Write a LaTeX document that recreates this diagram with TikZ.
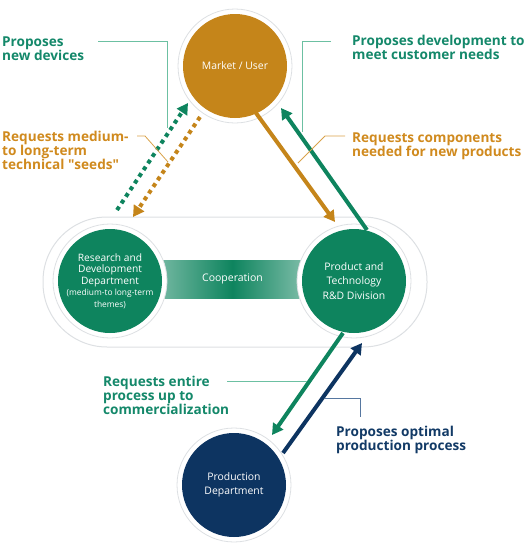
\documentclass[tikz,border=0pt]{standalone}
\usepackage{fontspec}
\setmainfont{Open Sans}
\usetikzlibrary{arrows.meta, calc, positioning}
\definecolor{mGold}{HTML}{C5851A}
\definecolor{mGreen}{HTML}{0E845E}
\definecolor{mNavy}{HTML}{0D3461}
\definecolor{mGoldTxt}{HTML}{D08A1E}
\definecolor{mGreenTxt}{HTML}{14886A}
\definecolor{mNavyTxt}{HTML}{123A66}
\definecolor{mLeafLine}{HTML}{6CC0A2}
\definecolor{mGoldLine}{HTML}{D9A24A}
\definecolor{mNavyLine}{HTML}{5677A0}
\definecolor{mRing}{HTML}{DDE0E3}

\begin{document}
\begin{tikzpicture}[x=1pt, y=-1pt,
  unit/.style={circle, fill=white, draw=mRing, line width=0.8pt, minimum size=114pt,
               inner sep=0pt, text=white, align=center, font=\fontsize{10.4}{14.5}\selectfont,
               path picture={\fill[#1] (path picture bounding box.center) circle (52pt);}},
  pill/.style={fill=white, draw=mRing, line width=1pt, rounded corners=64pt},
  coop/.style={minimum width=139pt, minimum height=38pt, inner sep=0pt, left color=mGreen!60,
               right color=mGreen!55, middle color=mGreen, text=white, font=\fontsize{10.5}{12}\selectfont},
  flow/.style={line width=4pt, draw=#1, -{Triangle[length=11pt, width=12pt]}},
  seed/.style={flow=#1, dash pattern=on 4pt off 4pt},
  lead/.style={draw=#1, line width=0.8pt},
  lbl/.style={anchor=base west, align=left, inner sep=0pt, text=#1,
              font=\fontsize{13.6}{14}\selectfont\bfseries}]
  \useasboundingbox (0,0) rectangle (526,552);
  % ring holding the two R&D units
  \draw[pill] (43,217) rectangle (427,347);
  \node[coop] (coop) at (232.5,279) {Cooperation};
  \node[unit=mGold] (mkt) at (235,66) {Market / User};
  \node[unit=mGreen, font=\fontsize{10.2}{11.5}\selectfont] (rnd) at (110,281)
    {Research and\\Development\\Department\\\fontsize{8.4}{12}\selectfont(medium-to long-term\\\fontsize{8.4}{11}\selectfont themes)};
  \node[unit=mGreen] (prod) at (354,281) {Product and\\Technology\\R\&D Division};
  \node[unit=mNavy] (dept) at (234,485) {Production\\Department};
  % flows between the units
  \draw[flow=mGold] ($(mkt)+(21,47)$) -- ($(prod)+(-19,-59)$);
  \draw[flow=mGreen] ($(prod)+(13,-51)$) -- ($(mkt)+(46,42)$);
  \draw[seed=mGreen] ($(rnd)+(7,-71)$) -- ($(mkt)+(-47,37)$);
  \draw[seed=mGold] ($(mkt)+(-35,51)$) -- ($(rnd)+(23,-64)$);
  \draw[flow=mGreen] ($(prod)+(-11,52)$) -- ($(dept)+(38,-50)$);
  \draw[flow=mNavy] ($(dept)+(49,-32)$) -- ($(prod)+(8,62)$);
  % labels (placed by the baseline of their last line)
  \node[lbl=mGreenTxt] (newdev) at (2,60) {Proposes\\new devices};
  \node[lbl=mGoldTxt] (seeds) at (2,169) {Requests medium-\\to long-term\\technical \textquotedbl seeds\textquotedbl};
  \node[lbl=mGreenTxt] (needs) at (352,59.5) {Proposes development to\\meet customer needs};
  \node[lbl=mGoldTxt] (parts) at (352,156) {Requests components\\needed for new products};
  \node[lbl=mGreenTxt] (whole) at (103,414) {Requests entire\\process up to\\commercialization};
  \node[lbl=mNavyTxt] (optim) at (336,450) {Proposes optimal\\production process};
  % leader lines
  \coordinate (tA) at (98,41);   \coordinate (hA) at (167,128);
  \coordinate (tB) at (137,136); \coordinate (hB) at (168,162);
  \coordinate (tC) at (331,41);  \coordinate (hC) at (302,132);
  \coordinate (tD) at (345,136); \coordinate (hD) at (298,163);
  \coordinate (tE) at (227,381); \coordinate (hE) at (307,381);
  \coordinate (tF) at (325,398); \coordinate (hF) at (360,417);
  \draw[lead=mLeafLine] (tA) -| (hA);
  \draw[lead=mGoldLine] (tB) -- ++(8,0) -- (hB);
  \draw[lead=mLeafLine] (tC) -| (hC);
  \draw[lead=mGoldLine] (tD) -- ++(-20,0) -- (hD);
  \draw[lead=mLeafLine] (tE) -- (hE);
  \draw[lead=mNavyLine] (tF) -| (hF);
\end{tikzpicture}
\end{document}
